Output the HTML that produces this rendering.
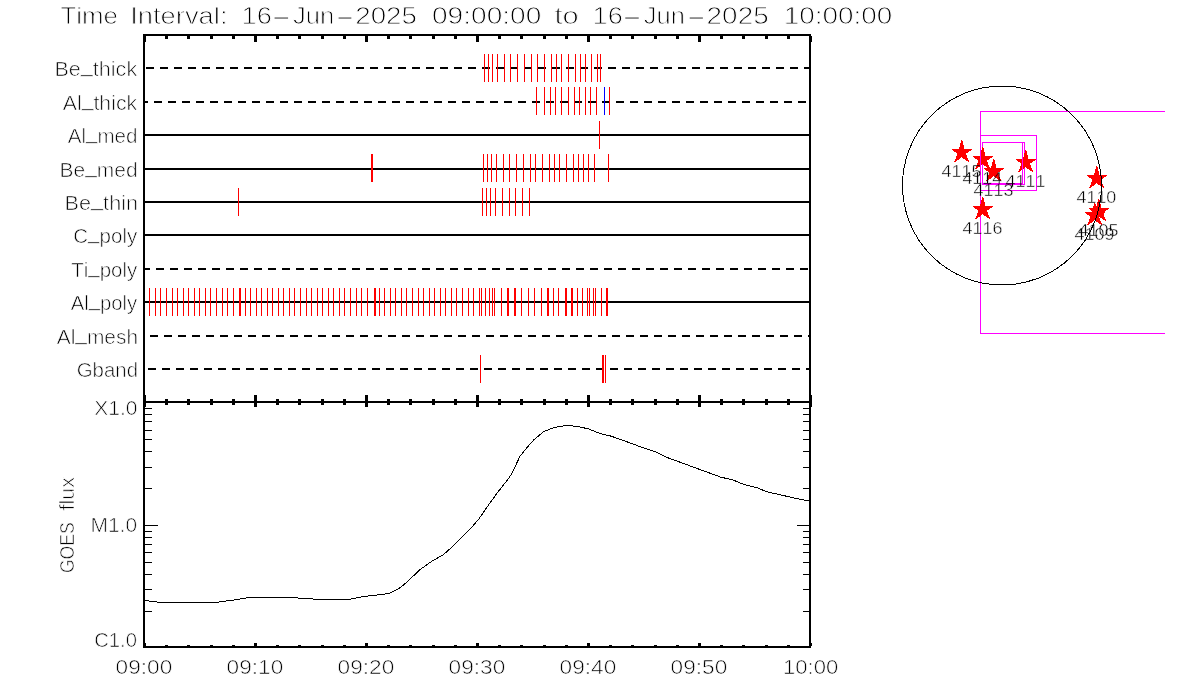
<!DOCTYPE html>
<html><head><meta charset="utf-8"><title>Time Interval</title>
<style>
html,body{margin:0;padding:0;background:#fff;}
svg{display:block;}
text{font-family:"Liberation Sans",sans-serif;fill:#000;font-kerning:none;stroke:#fff;mix-blend-mode:multiply;vector-effect:non-scaling-stroke;}
rect,polygon,polyline,circle{shape-rendering:crispEdges;}
</style></head><body>
<svg width="1200" height="700" viewBox="0 0 1200 700">
<rect x="0" y="0" width="1200" height="700" fill="#fff"/>
<rect x="143" y="34" width="668" height="2" fill="#000"/>
<rect x="143" y="401" width="668" height="2" fill="#000"/>
<rect x="143" y="646" width="668" height="2" fill="#000"/>
<rect x="143" y="34" width="2" height="614" fill="#000"/>
<rect x="809" y="34" width="2" height="614" fill="#000"/>
<rect x="143" y="36" width="3" height="6" fill="#000"/>
<rect x="143" y="395" width="3" height="12" fill="#000"/>
<rect x="143" y="643" width="3" height="3" fill="#000"/>
<rect x="165" y="36" width="3" height="3" fill="#000"/>
<rect x="165" y="399" width="3" height="6" fill="#000"/>
<rect x="165" y="645" width="3" height="1" fill="#000"/>
<rect x="187" y="36" width="3" height="3" fill="#000"/>
<rect x="187" y="399" width="3" height="6" fill="#000"/>
<rect x="187" y="645" width="3" height="1" fill="#000"/>
<rect x="210" y="36" width="3" height="3" fill="#000"/>
<rect x="210" y="399" width="3" height="6" fill="#000"/>
<rect x="210" y="645" width="3" height="1" fill="#000"/>
<rect x="232" y="36" width="3" height="3" fill="#000"/>
<rect x="232" y="399" width="3" height="6" fill="#000"/>
<rect x="232" y="645" width="3" height="1" fill="#000"/>
<rect x="254" y="36" width="3" height="6" fill="#000"/>
<rect x="254" y="395" width="3" height="12" fill="#000"/>
<rect x="254" y="643" width="3" height="3" fill="#000"/>
<rect x="276" y="36" width="3" height="3" fill="#000"/>
<rect x="276" y="399" width="3" height="6" fill="#000"/>
<rect x="276" y="645" width="3" height="1" fill="#000"/>
<rect x="298" y="36" width="3" height="3" fill="#000"/>
<rect x="298" y="399" width="3" height="6" fill="#000"/>
<rect x="298" y="645" width="3" height="1" fill="#000"/>
<rect x="321" y="36" width="3" height="3" fill="#000"/>
<rect x="321" y="399" width="3" height="6" fill="#000"/>
<rect x="321" y="645" width="3" height="1" fill="#000"/>
<rect x="343" y="36" width="3" height="3" fill="#000"/>
<rect x="343" y="399" width="3" height="6" fill="#000"/>
<rect x="343" y="645" width="3" height="1" fill="#000"/>
<rect x="365" y="36" width="3" height="6" fill="#000"/>
<rect x="365" y="395" width="3" height="12" fill="#000"/>
<rect x="365" y="643" width="3" height="3" fill="#000"/>
<rect x="387" y="36" width="3" height="3" fill="#000"/>
<rect x="387" y="399" width="3" height="6" fill="#000"/>
<rect x="387" y="645" width="3" height="1" fill="#000"/>
<rect x="409" y="36" width="3" height="3" fill="#000"/>
<rect x="409" y="399" width="3" height="6" fill="#000"/>
<rect x="409" y="645" width="3" height="1" fill="#000"/>
<rect x="432" y="36" width="3" height="3" fill="#000"/>
<rect x="432" y="399" width="3" height="6" fill="#000"/>
<rect x="432" y="645" width="3" height="1" fill="#000"/>
<rect x="454" y="36" width="3" height="3" fill="#000"/>
<rect x="454" y="399" width="3" height="6" fill="#000"/>
<rect x="454" y="645" width="3" height="1" fill="#000"/>
<rect x="476" y="36" width="3" height="6" fill="#000"/>
<rect x="476" y="395" width="3" height="12" fill="#000"/>
<rect x="476" y="643" width="3" height="3" fill="#000"/>
<rect x="498" y="36" width="3" height="3" fill="#000"/>
<rect x="498" y="399" width="3" height="6" fill="#000"/>
<rect x="498" y="645" width="3" height="1" fill="#000"/>
<rect x="520" y="36" width="3" height="3" fill="#000"/>
<rect x="520" y="399" width="3" height="6" fill="#000"/>
<rect x="520" y="645" width="3" height="1" fill="#000"/>
<rect x="543" y="36" width="3" height="3" fill="#000"/>
<rect x="543" y="399" width="3" height="6" fill="#000"/>
<rect x="543" y="645" width="3" height="1" fill="#000"/>
<rect x="565" y="36" width="3" height="3" fill="#000"/>
<rect x="565" y="399" width="3" height="6" fill="#000"/>
<rect x="565" y="645" width="3" height="1" fill="#000"/>
<rect x="587" y="36" width="3" height="6" fill="#000"/>
<rect x="587" y="395" width="3" height="12" fill="#000"/>
<rect x="587" y="643" width="3" height="3" fill="#000"/>
<rect x="609" y="36" width="3" height="3" fill="#000"/>
<rect x="609" y="399" width="3" height="6" fill="#000"/>
<rect x="609" y="645" width="3" height="1" fill="#000"/>
<rect x="631" y="36" width="3" height="3" fill="#000"/>
<rect x="631" y="399" width="3" height="6" fill="#000"/>
<rect x="631" y="645" width="3" height="1" fill="#000"/>
<rect x="654" y="36" width="3" height="3" fill="#000"/>
<rect x="654" y="399" width="3" height="6" fill="#000"/>
<rect x="654" y="645" width="3" height="1" fill="#000"/>
<rect x="676" y="36" width="3" height="3" fill="#000"/>
<rect x="676" y="399" width="3" height="6" fill="#000"/>
<rect x="676" y="645" width="3" height="1" fill="#000"/>
<rect x="698" y="36" width="3" height="6" fill="#000"/>
<rect x="698" y="395" width="3" height="12" fill="#000"/>
<rect x="698" y="643" width="3" height="3" fill="#000"/>
<rect x="720" y="36" width="3" height="3" fill="#000"/>
<rect x="720" y="399" width="3" height="6" fill="#000"/>
<rect x="720" y="645" width="3" height="1" fill="#000"/>
<rect x="742" y="36" width="3" height="3" fill="#000"/>
<rect x="742" y="399" width="3" height="6" fill="#000"/>
<rect x="742" y="645" width="3" height="1" fill="#000"/>
<rect x="765" y="36" width="3" height="3" fill="#000"/>
<rect x="765" y="399" width="3" height="6" fill="#000"/>
<rect x="765" y="645" width="3" height="1" fill="#000"/>
<rect x="787" y="36" width="3" height="3" fill="#000"/>
<rect x="787" y="399" width="3" height="6" fill="#000"/>
<rect x="787" y="645" width="3" height="1" fill="#000"/>
<rect x="809" y="36" width="3" height="6" fill="#000"/>
<rect x="809" y="395" width="3" height="12" fill="#000"/>
<rect x="809" y="643" width="3" height="3" fill="#000"/>
<rect x="146" y="67" width="8" height="2" fill="#000"/>
<rect x="160" y="67" width="8" height="2" fill="#000"/>
<rect x="174" y="67" width="8" height="2" fill="#000"/>
<rect x="188" y="67" width="8" height="2" fill="#000"/>
<rect x="202" y="67" width="8" height="2" fill="#000"/>
<rect x="216" y="67" width="8" height="2" fill="#000"/>
<rect x="230" y="67" width="8" height="2" fill="#000"/>
<rect x="244" y="67" width="8" height="2" fill="#000"/>
<rect x="258" y="67" width="8" height="2" fill="#000"/>
<rect x="272" y="67" width="8" height="2" fill="#000"/>
<rect x="286" y="67" width="8" height="2" fill="#000"/>
<rect x="300" y="67" width="8" height="2" fill="#000"/>
<rect x="314" y="67" width="8" height="2" fill="#000"/>
<rect x="328" y="67" width="8" height="2" fill="#000"/>
<rect x="342" y="67" width="8" height="2" fill="#000"/>
<rect x="356" y="67" width="8" height="2" fill="#000"/>
<rect x="370" y="67" width="8" height="2" fill="#000"/>
<rect x="384" y="67" width="8" height="2" fill="#000"/>
<rect x="398" y="67" width="8" height="2" fill="#000"/>
<rect x="412" y="67" width="8" height="2" fill="#000"/>
<rect x="426" y="67" width="8" height="2" fill="#000"/>
<rect x="440" y="67" width="8" height="2" fill="#000"/>
<rect x="454" y="67" width="8" height="2" fill="#000"/>
<rect x="468" y="67" width="8" height="2" fill="#000"/>
<rect x="482" y="67" width="8" height="2" fill="#000"/>
<rect x="496" y="67" width="8" height="2" fill="#000"/>
<rect x="510" y="67" width="8" height="2" fill="#000"/>
<rect x="524" y="67" width="8" height="2" fill="#000"/>
<rect x="538" y="67" width="8" height="2" fill="#000"/>
<rect x="552" y="67" width="8" height="2" fill="#000"/>
<rect x="566" y="67" width="8" height="2" fill="#000"/>
<rect x="580" y="67" width="8" height="2" fill="#000"/>
<rect x="594" y="67" width="8" height="2" fill="#000"/>
<rect x="608" y="67" width="8" height="2" fill="#000"/>
<rect x="622" y="67" width="8" height="2" fill="#000"/>
<rect x="636" y="67" width="8" height="2" fill="#000"/>
<rect x="650" y="67" width="8" height="2" fill="#000"/>
<rect x="664" y="67" width="8" height="2" fill="#000"/>
<rect x="678" y="67" width="8" height="2" fill="#000"/>
<rect x="692" y="67" width="8" height="2" fill="#000"/>
<rect x="706" y="67" width="8" height="2" fill="#000"/>
<rect x="720" y="67" width="8" height="2" fill="#000"/>
<rect x="734" y="67" width="8" height="2" fill="#000"/>
<rect x="748" y="67" width="8" height="2" fill="#000"/>
<rect x="762" y="67" width="8" height="2" fill="#000"/>
<rect x="776" y="67" width="8" height="2" fill="#000"/>
<rect x="790" y="67" width="8" height="2" fill="#000"/>
<rect x="804" y="67" width="5" height="2" fill="#000"/>
<text transform="translate(54.50,75.5) scale(1.0781,1)" font-size="20" stroke-width="0.66">Be<tspan dy="-3.5">_</tspan><tspan dy="3.5">thick</tspan></text>
<rect x="145" y="101" width="3" height="2" fill="#000"/>
<rect x="154" y="101" width="8" height="2" fill="#000"/>
<rect x="168" y="101" width="8" height="2" fill="#000"/>
<rect x="182" y="101" width="8" height="2" fill="#000"/>
<rect x="196" y="101" width="8" height="2" fill="#000"/>
<rect x="210" y="101" width="8" height="2" fill="#000"/>
<rect x="224" y="101" width="8" height="2" fill="#000"/>
<rect x="238" y="101" width="8" height="2" fill="#000"/>
<rect x="252" y="101" width="8" height="2" fill="#000"/>
<rect x="266" y="101" width="8" height="2" fill="#000"/>
<rect x="280" y="101" width="8" height="2" fill="#000"/>
<rect x="294" y="101" width="8" height="2" fill="#000"/>
<rect x="308" y="101" width="8" height="2" fill="#000"/>
<rect x="322" y="101" width="8" height="2" fill="#000"/>
<rect x="336" y="101" width="8" height="2" fill="#000"/>
<rect x="350" y="101" width="8" height="2" fill="#000"/>
<rect x="364" y="101" width="8" height="2" fill="#000"/>
<rect x="378" y="101" width="8" height="2" fill="#000"/>
<rect x="392" y="101" width="8" height="2" fill="#000"/>
<rect x="406" y="101" width="8" height="2" fill="#000"/>
<rect x="420" y="101" width="8" height="2" fill="#000"/>
<rect x="434" y="101" width="8" height="2" fill="#000"/>
<rect x="448" y="101" width="8" height="2" fill="#000"/>
<rect x="462" y="101" width="8" height="2" fill="#000"/>
<rect x="476" y="101" width="8" height="2" fill="#000"/>
<rect x="490" y="101" width="8" height="2" fill="#000"/>
<rect x="504" y="101" width="8" height="2" fill="#000"/>
<rect x="518" y="101" width="8" height="2" fill="#000"/>
<rect x="532" y="101" width="8" height="2" fill="#000"/>
<rect x="546" y="101" width="8" height="2" fill="#000"/>
<rect x="560" y="101" width="8" height="2" fill="#000"/>
<rect x="574" y="101" width="8" height="2" fill="#000"/>
<rect x="588" y="101" width="8" height="2" fill="#000"/>
<rect x="602" y="101" width="8" height="2" fill="#000"/>
<rect x="616" y="101" width="8" height="2" fill="#000"/>
<rect x="630" y="101" width="8" height="2" fill="#000"/>
<rect x="644" y="101" width="8" height="2" fill="#000"/>
<rect x="658" y="101" width="8" height="2" fill="#000"/>
<rect x="672" y="101" width="8" height="2" fill="#000"/>
<rect x="686" y="101" width="8" height="2" fill="#000"/>
<rect x="700" y="101" width="8" height="2" fill="#000"/>
<rect x="714" y="101" width="8" height="2" fill="#000"/>
<rect x="728" y="101" width="8" height="2" fill="#000"/>
<rect x="742" y="101" width="8" height="2" fill="#000"/>
<rect x="756" y="101" width="8" height="2" fill="#000"/>
<rect x="770" y="101" width="8" height="2" fill="#000"/>
<rect x="784" y="101" width="8" height="2" fill="#000"/>
<rect x="798" y="101" width="8" height="2" fill="#000"/>
<text transform="translate(62.73,109.5) scale(1.0634,1)" font-size="20" stroke-width="0.66">Al<tspan dy="-3.5">_</tspan><tspan dy="3.5">thick</tspan></text>
<rect x="145" y="134" width="664" height="2" fill="#000"/>
<text transform="translate(67.73,142.5) scale(1.0297,1)" font-size="20" stroke-width="0.66">Al<tspan dy="-3.5">_</tspan><tspan dy="3.5">med</tspan></text>
<rect x="145" y="168" width="664" height="2" fill="#000"/>
<text transform="translate(59.55,176.5) scale(1.0475,1)" font-size="20" stroke-width="0.66">Be<tspan dy="-3.5">_</tspan><tspan dy="3.5">med</tspan></text>
<rect x="145" y="201" width="664" height="2" fill="#000"/>
<text transform="translate(64.49,209.5) scale(1.0858,1)" font-size="20" stroke-width="0.66">Be<tspan dy="-3.5">_</tspan><tspan dy="3.5">thin</tspan></text>
<rect x="145" y="234" width="664" height="2" fill="#000"/>
<text transform="translate(73.22,242.5) scale(1.0288,1)" font-size="20" stroke-width="0.66">C<tspan dy="-3.5">_</tspan><tspan dy="3.5">poly</tspan></text>
<rect x="145" y="268" width="5" height="2" fill="#000"/>
<rect x="156" y="268" width="8" height="2" fill="#000"/>
<rect x="170" y="268" width="8" height="2" fill="#000"/>
<rect x="184" y="268" width="8" height="2" fill="#000"/>
<rect x="198" y="268" width="8" height="2" fill="#000"/>
<rect x="212" y="268" width="8" height="2" fill="#000"/>
<rect x="226" y="268" width="8" height="2" fill="#000"/>
<rect x="240" y="268" width="8" height="2" fill="#000"/>
<rect x="254" y="268" width="8" height="2" fill="#000"/>
<rect x="268" y="268" width="8" height="2" fill="#000"/>
<rect x="282" y="268" width="8" height="2" fill="#000"/>
<rect x="296" y="268" width="8" height="2" fill="#000"/>
<rect x="310" y="268" width="8" height="2" fill="#000"/>
<rect x="324" y="268" width="8" height="2" fill="#000"/>
<rect x="338" y="268" width="8" height="2" fill="#000"/>
<rect x="352" y="268" width="8" height="2" fill="#000"/>
<rect x="366" y="268" width="8" height="2" fill="#000"/>
<rect x="380" y="268" width="8" height="2" fill="#000"/>
<rect x="394" y="268" width="8" height="2" fill="#000"/>
<rect x="408" y="268" width="8" height="2" fill="#000"/>
<rect x="422" y="268" width="8" height="2" fill="#000"/>
<rect x="436" y="268" width="8" height="2" fill="#000"/>
<rect x="450" y="268" width="8" height="2" fill="#000"/>
<rect x="464" y="268" width="8" height="2" fill="#000"/>
<rect x="478" y="268" width="8" height="2" fill="#000"/>
<rect x="492" y="268" width="8" height="2" fill="#000"/>
<rect x="506" y="268" width="8" height="2" fill="#000"/>
<rect x="520" y="268" width="8" height="2" fill="#000"/>
<rect x="534" y="268" width="8" height="2" fill="#000"/>
<rect x="548" y="268" width="8" height="2" fill="#000"/>
<rect x="562" y="268" width="8" height="2" fill="#000"/>
<rect x="576" y="268" width="8" height="2" fill="#000"/>
<rect x="590" y="268" width="8" height="2" fill="#000"/>
<rect x="604" y="268" width="8" height="2" fill="#000"/>
<rect x="618" y="268" width="8" height="2" fill="#000"/>
<rect x="632" y="268" width="8" height="2" fill="#000"/>
<rect x="646" y="268" width="8" height="2" fill="#000"/>
<rect x="660" y="268" width="8" height="2" fill="#000"/>
<rect x="674" y="268" width="8" height="2" fill="#000"/>
<rect x="688" y="268" width="8" height="2" fill="#000"/>
<rect x="702" y="268" width="8" height="2" fill="#000"/>
<rect x="716" y="268" width="8" height="2" fill="#000"/>
<rect x="730" y="268" width="8" height="2" fill="#000"/>
<rect x="744" y="268" width="8" height="2" fill="#000"/>
<rect x="758" y="268" width="8" height="2" fill="#000"/>
<rect x="772" y="268" width="8" height="2" fill="#000"/>
<rect x="786" y="268" width="8" height="2" fill="#000"/>
<rect x="800" y="268" width="8" height="2" fill="#000"/>
<text transform="translate(71.31,276.5) scale(1.0231,1)" font-size="20" stroke-width="0.66">Ti<tspan dy="-3.5">_</tspan><tspan dy="3.5">poly</tspan></text>
<rect x="145" y="301" width="664" height="2" fill="#000"/>
<text transform="translate(70.73,309.5) scale(1.0144,1)" font-size="20" stroke-width="0.66">Al<tspan dy="-3.5">_</tspan><tspan dy="3.5">poly</tspan></text>
<rect x="150" y="335" width="8" height="2" fill="#000"/>
<rect x="164" y="335" width="8" height="2" fill="#000"/>
<rect x="178" y="335" width="8" height="2" fill="#000"/>
<rect x="192" y="335" width="8" height="2" fill="#000"/>
<rect x="206" y="335" width="8" height="2" fill="#000"/>
<rect x="220" y="335" width="8" height="2" fill="#000"/>
<rect x="234" y="335" width="8" height="2" fill="#000"/>
<rect x="248" y="335" width="8" height="2" fill="#000"/>
<rect x="262" y="335" width="8" height="2" fill="#000"/>
<rect x="276" y="335" width="8" height="2" fill="#000"/>
<rect x="290" y="335" width="8" height="2" fill="#000"/>
<rect x="304" y="335" width="8" height="2" fill="#000"/>
<rect x="318" y="335" width="8" height="2" fill="#000"/>
<rect x="332" y="335" width="8" height="2" fill="#000"/>
<rect x="346" y="335" width="8" height="2" fill="#000"/>
<rect x="360" y="335" width="8" height="2" fill="#000"/>
<rect x="374" y="335" width="8" height="2" fill="#000"/>
<rect x="388" y="335" width="8" height="2" fill="#000"/>
<rect x="402" y="335" width="8" height="2" fill="#000"/>
<rect x="416" y="335" width="8" height="2" fill="#000"/>
<rect x="430" y="335" width="8" height="2" fill="#000"/>
<rect x="444" y="335" width="8" height="2" fill="#000"/>
<rect x="458" y="335" width="8" height="2" fill="#000"/>
<rect x="472" y="335" width="8" height="2" fill="#000"/>
<rect x="486" y="335" width="8" height="2" fill="#000"/>
<rect x="500" y="335" width="8" height="2" fill="#000"/>
<rect x="514" y="335" width="8" height="2" fill="#000"/>
<rect x="528" y="335" width="8" height="2" fill="#000"/>
<rect x="542" y="335" width="8" height="2" fill="#000"/>
<rect x="556" y="335" width="8" height="2" fill="#000"/>
<rect x="570" y="335" width="8" height="2" fill="#000"/>
<rect x="584" y="335" width="8" height="2" fill="#000"/>
<rect x="598" y="335" width="8" height="2" fill="#000"/>
<rect x="612" y="335" width="8" height="2" fill="#000"/>
<rect x="626" y="335" width="8" height="2" fill="#000"/>
<rect x="640" y="335" width="8" height="2" fill="#000"/>
<rect x="654" y="335" width="8" height="2" fill="#000"/>
<rect x="668" y="335" width="8" height="2" fill="#000"/>
<rect x="682" y="335" width="8" height="2" fill="#000"/>
<rect x="696" y="335" width="8" height="2" fill="#000"/>
<rect x="710" y="335" width="8" height="2" fill="#000"/>
<rect x="724" y="335" width="8" height="2" fill="#000"/>
<rect x="738" y="335" width="8" height="2" fill="#000"/>
<rect x="752" y="335" width="8" height="2" fill="#000"/>
<rect x="766" y="335" width="8" height="2" fill="#000"/>
<rect x="780" y="335" width="8" height="2" fill="#000"/>
<rect x="794" y="335" width="8" height="2" fill="#000"/>
<rect x="808" y="335" width="1" height="2" fill="#000"/>
<text transform="translate(56.73,343.5) scale(1.0456,1)" font-size="20" stroke-width="0.66">Al<tspan dy="-3.5">_</tspan><tspan dy="3.5">mesh</tspan></text>
<rect x="148" y="368" width="8" height="2" fill="#000"/>
<rect x="162" y="368" width="8" height="2" fill="#000"/>
<rect x="176" y="368" width="8" height="2" fill="#000"/>
<rect x="190" y="368" width="8" height="2" fill="#000"/>
<rect x="204" y="368" width="8" height="2" fill="#000"/>
<rect x="218" y="368" width="8" height="2" fill="#000"/>
<rect x="232" y="368" width="8" height="2" fill="#000"/>
<rect x="246" y="368" width="8" height="2" fill="#000"/>
<rect x="260" y="368" width="8" height="2" fill="#000"/>
<rect x="274" y="368" width="8" height="2" fill="#000"/>
<rect x="288" y="368" width="8" height="2" fill="#000"/>
<rect x="302" y="368" width="8" height="2" fill="#000"/>
<rect x="316" y="368" width="8" height="2" fill="#000"/>
<rect x="330" y="368" width="8" height="2" fill="#000"/>
<rect x="344" y="368" width="8" height="2" fill="#000"/>
<rect x="358" y="368" width="8" height="2" fill="#000"/>
<rect x="372" y="368" width="8" height="2" fill="#000"/>
<rect x="386" y="368" width="8" height="2" fill="#000"/>
<rect x="400" y="368" width="8" height="2" fill="#000"/>
<rect x="414" y="368" width="8" height="2" fill="#000"/>
<rect x="428" y="368" width="8" height="2" fill="#000"/>
<rect x="442" y="368" width="8" height="2" fill="#000"/>
<rect x="456" y="368" width="8" height="2" fill="#000"/>
<rect x="470" y="368" width="8" height="2" fill="#000"/>
<rect x="484" y="368" width="8" height="2" fill="#000"/>
<rect x="498" y="368" width="8" height="2" fill="#000"/>
<rect x="512" y="368" width="8" height="2" fill="#000"/>
<rect x="526" y="368" width="8" height="2" fill="#000"/>
<rect x="540" y="368" width="8" height="2" fill="#000"/>
<rect x="554" y="368" width="8" height="2" fill="#000"/>
<rect x="568" y="368" width="8" height="2" fill="#000"/>
<rect x="582" y="368" width="8" height="2" fill="#000"/>
<rect x="596" y="368" width="8" height="2" fill="#000"/>
<rect x="610" y="368" width="8" height="2" fill="#000"/>
<rect x="624" y="368" width="8" height="2" fill="#000"/>
<rect x="638" y="368" width="8" height="2" fill="#000"/>
<rect x="652" y="368" width="8" height="2" fill="#000"/>
<rect x="666" y="368" width="8" height="2" fill="#000"/>
<rect x="680" y="368" width="8" height="2" fill="#000"/>
<rect x="694" y="368" width="8" height="2" fill="#000"/>
<rect x="708" y="368" width="8" height="2" fill="#000"/>
<rect x="722" y="368" width="8" height="2" fill="#000"/>
<rect x="736" y="368" width="8" height="2" fill="#000"/>
<rect x="750" y="368" width="8" height="2" fill="#000"/>
<rect x="764" y="368" width="8" height="2" fill="#000"/>
<rect x="778" y="368" width="8" height="2" fill="#000"/>
<rect x="792" y="368" width="8" height="2" fill="#000"/>
<rect x="806" y="368" width="3" height="2" fill="#000"/>
<text transform="translate(76.74,376.5) scale(1.0209,1)" font-size="20" stroke-width="0.66">Gband</text>
<rect x="484" y="54" width="1" height="28" fill="#f00"/>
<rect x="488" y="54" width="1" height="28" fill="#f00"/>
<rect x="492" y="54" width="1" height="28" fill="#f00"/>
<rect x="497" y="54" width="1" height="28" fill="#f00"/>
<rect x="504" y="54" width="1" height="28" fill="#f00"/>
<rect x="510" y="54" width="1" height="28" fill="#f00"/>
<rect x="517" y="54" width="1" height="28" fill="#f00"/>
<rect x="524" y="54" width="1" height="28" fill="#f00"/>
<rect x="531" y="54" width="1" height="28" fill="#f00"/>
<rect x="537" y="54" width="1" height="28" fill="#f00"/>
<rect x="544" y="54" width="1" height="28" fill="#f00"/>
<rect x="551" y="54" width="1" height="28" fill="#f00"/>
<rect x="556" y="54" width="1" height="28" fill="#f00"/>
<rect x="561" y="54" width="1" height="28" fill="#f00"/>
<rect x="568" y="54" width="1" height="28" fill="#f00"/>
<rect x="575" y="54" width="1" height="28" fill="#f00"/>
<rect x="580" y="54" width="1" height="28" fill="#f00"/>
<rect x="585" y="54" width="1" height="28" fill="#f00"/>
<rect x="591" y="54" width="1" height="28" fill="#f00"/>
<rect x="597" y="54" width="1" height="28" fill="#f00"/>
<rect x="600" y="54" width="1" height="28" fill="#f00"/>
<rect x="536" y="87" width="1" height="28" fill="#f00"/>
<rect x="544" y="87" width="1" height="28" fill="#f00"/>
<rect x="550" y="87" width="1" height="28" fill="#f00"/>
<rect x="555" y="87" width="1" height="28" fill="#f00"/>
<rect x="561" y="87" width="1" height="28" fill="#f00"/>
<rect x="568" y="87" width="1" height="28" fill="#f00"/>
<rect x="574" y="87" width="1" height="28" fill="#f00"/>
<rect x="579" y="87" width="1" height="28" fill="#f00"/>
<rect x="585" y="87" width="1" height="28" fill="#f00"/>
<rect x="590" y="87" width="1" height="28" fill="#f00"/>
<rect x="596" y="87" width="1" height="28" fill="#f00"/>
<rect x="604" y="87" width="1" height="28" fill="#00f"/>
<rect x="609" y="87" width="1" height="28" fill="#f00"/>
<rect x="599" y="121" width="1" height="28" fill="#f00"/>
<rect x="371" y="154" width="2" height="28" fill="#f00"/>
<rect x="483" y="154" width="1" height="28" fill="#f00"/>
<rect x="487" y="154" width="1" height="28" fill="#f00"/>
<rect x="491" y="154" width="1" height="28" fill="#f00"/>
<rect x="496" y="154" width="1" height="28" fill="#f00"/>
<rect x="503" y="154" width="1" height="28" fill="#f00"/>
<rect x="509" y="154" width="1" height="28" fill="#f00"/>
<rect x="516" y="154" width="1" height="28" fill="#f00"/>
<rect x="523" y="154" width="1" height="28" fill="#f00"/>
<rect x="530" y="154" width="1" height="28" fill="#f00"/>
<rect x="535" y="154" width="1" height="28" fill="#f00"/>
<rect x="542" y="154" width="1" height="28" fill="#f00"/>
<rect x="549" y="154" width="1" height="28" fill="#f00"/>
<rect x="554" y="154" width="1" height="28" fill="#f00"/>
<rect x="559" y="154" width="1" height="28" fill="#f00"/>
<rect x="566" y="154" width="1" height="28" fill="#f00"/>
<rect x="573" y="154" width="1" height="28" fill="#f00"/>
<rect x="578" y="154" width="1" height="28" fill="#f00"/>
<rect x="583" y="154" width="1" height="28" fill="#f00"/>
<rect x="588" y="154" width="1" height="28" fill="#f00"/>
<rect x="594" y="154" width="1" height="28" fill="#f00"/>
<rect x="608" y="154" width="1" height="28" fill="#f00"/>
<rect x="238" y="188" width="1" height="28" fill="#f00"/>
<rect x="482" y="188" width="1" height="28" fill="#f00"/>
<rect x="486" y="188" width="1" height="28" fill="#f00"/>
<rect x="490" y="188" width="1" height="28" fill="#f00"/>
<rect x="495" y="188" width="1" height="28" fill="#f00"/>
<rect x="502" y="188" width="1" height="28" fill="#f00"/>
<rect x="509" y="188" width="1" height="28" fill="#f00"/>
<rect x="515" y="188" width="1" height="28" fill="#f00"/>
<rect x="522" y="188" width="1" height="28" fill="#f00"/>
<rect x="529" y="188" width="1" height="28" fill="#f00"/>
<rect x="149" y="288" width="1" height="28" fill="#f00"/>
<rect x="155" y="288" width="1" height="28" fill="#f00"/>
<rect x="160" y="288" width="1" height="28" fill="#f00"/>
<rect x="166" y="288" width="1" height="28" fill="#f00"/>
<rect x="172" y="288" width="1" height="28" fill="#f00"/>
<rect x="177" y="288" width="1" height="28" fill="#f00"/>
<rect x="183" y="288" width="1" height="28" fill="#f00"/>
<rect x="188" y="288" width="1" height="28" fill="#f00"/>
<rect x="194" y="288" width="1" height="28" fill="#f00"/>
<rect x="199" y="288" width="1" height="28" fill="#f00"/>
<rect x="205" y="288" width="1" height="28" fill="#f00"/>
<rect x="210" y="288" width="1" height="28" fill="#f00"/>
<rect x="216" y="288" width="1" height="28" fill="#f00"/>
<rect x="222" y="288" width="1" height="28" fill="#f00"/>
<rect x="227" y="288" width="1" height="28" fill="#f00"/>
<rect x="233" y="288" width="1" height="28" fill="#f00"/>
<rect x="239" y="288" width="2" height="28" fill="#f00"/>
<rect x="245" y="288" width="1" height="28" fill="#f00"/>
<rect x="250" y="288" width="1" height="28" fill="#f00"/>
<rect x="256" y="288" width="1" height="28" fill="#f00"/>
<rect x="261" y="288" width="1" height="28" fill="#f00"/>
<rect x="267" y="288" width="1" height="28" fill="#f00"/>
<rect x="272" y="288" width="1" height="28" fill="#f00"/>
<rect x="278" y="288" width="1" height="28" fill="#f00"/>
<rect x="283" y="288" width="1" height="28" fill="#f00"/>
<rect x="289" y="288" width="1" height="28" fill="#f00"/>
<rect x="294" y="288" width="1" height="28" fill="#f00"/>
<rect x="300" y="288" width="1" height="28" fill="#f00"/>
<rect x="306" y="288" width="1" height="28" fill="#f00"/>
<rect x="311" y="288" width="1" height="28" fill="#f00"/>
<rect x="317" y="288" width="1" height="28" fill="#f00"/>
<rect x="322" y="288" width="1" height="28" fill="#f00"/>
<rect x="328" y="288" width="1" height="28" fill="#f00"/>
<rect x="333" y="288" width="1" height="28" fill="#f00"/>
<rect x="339" y="288" width="1" height="28" fill="#f00"/>
<rect x="344" y="288" width="1" height="28" fill="#f00"/>
<rect x="350" y="288" width="1" height="28" fill="#f00"/>
<rect x="356" y="288" width="1" height="28" fill="#f00"/>
<rect x="361" y="288" width="1" height="28" fill="#f00"/>
<rect x="367" y="288" width="1" height="28" fill="#f00"/>
<rect x="374" y="288" width="2" height="28" fill="#f00"/>
<rect x="379" y="288" width="1" height="28" fill="#f00"/>
<rect x="384" y="288" width="1" height="28" fill="#f00"/>
<rect x="390" y="288" width="1" height="28" fill="#f00"/>
<rect x="395" y="288" width="1" height="28" fill="#f00"/>
<rect x="401" y="288" width="1" height="28" fill="#f00"/>
<rect x="406" y="288" width="1" height="28" fill="#f00"/>
<rect x="412" y="288" width="1" height="28" fill="#f00"/>
<rect x="418" y="288" width="1" height="28" fill="#f00"/>
<rect x="423" y="288" width="1" height="28" fill="#f00"/>
<rect x="429" y="288" width="1" height="28" fill="#f00"/>
<rect x="434" y="288" width="1" height="28" fill="#f00"/>
<rect x="440" y="288" width="1" height="28" fill="#f00"/>
<rect x="445" y="288" width="1" height="28" fill="#f00"/>
<rect x="451" y="288" width="1" height="28" fill="#f00"/>
<rect x="456" y="288" width="1" height="28" fill="#f00"/>
<rect x="462" y="288" width="1" height="28" fill="#f00"/>
<rect x="468" y="288" width="1" height="28" fill="#f00"/>
<rect x="473" y="288" width="1" height="28" fill="#f00"/>
<rect x="479" y="288" width="1" height="28" fill="#f00"/>
<rect x="481" y="288" width="1" height="28" fill="#f00"/>
<rect x="485" y="288" width="1" height="28" fill="#f00"/>
<rect x="489" y="288" width="1" height="28" fill="#f00"/>
<rect x="492" y="288" width="1" height="28" fill="#f00"/>
<rect x="494" y="288" width="1" height="28" fill="#f00"/>
<rect x="501" y="288" width="1" height="28" fill="#f00"/>
<rect x="507" y="288" width="2" height="28" fill="#f00"/>
<rect x="514" y="288" width="2" height="28" fill="#f00"/>
<rect x="521" y="288" width="1" height="28" fill="#f00"/>
<rect x="528" y="288" width="1" height="28" fill="#f00"/>
<rect x="534" y="288" width="1" height="28" fill="#f00"/>
<rect x="541" y="288" width="1" height="28" fill="#f00"/>
<rect x="547" y="288" width="2" height="28" fill="#f00"/>
<rect x="553" y="288" width="1" height="28" fill="#f00"/>
<rect x="558" y="288" width="1" height="28" fill="#f00"/>
<rect x="565" y="288" width="2" height="28" fill="#f00"/>
<rect x="571" y="288" width="2" height="28" fill="#f00"/>
<rect x="577" y="288" width="1" height="28" fill="#f00"/>
<rect x="582" y="288" width="1" height="28" fill="#f00"/>
<rect x="587" y="288" width="1" height="28" fill="#f00"/>
<rect x="589" y="288" width="1" height="28" fill="#f00"/>
<rect x="593" y="288" width="1" height="28" fill="#f00"/>
<rect x="595" y="288" width="1" height="28" fill="#f00"/>
<rect x="601" y="288" width="1" height="28" fill="#f00"/>
<rect x="606" y="288" width="2" height="28" fill="#f00"/>
<rect x="480" y="355" width="1" height="28" fill="#f00"/>
<rect x="602" y="355" width="2" height="28" fill="#f00"/>
<rect x="605" y="355" width="1" height="28" fill="#f00"/>
<rect x="145" y="611" width="7" height="1" fill="#000"/>
<rect x="803" y="611" width="6" height="1" fill="#000"/>
<rect x="145" y="589" width="7" height="1" fill="#000"/>
<rect x="803" y="589" width="6" height="1" fill="#000"/>
<rect x="145" y="574" width="7" height="1" fill="#000"/>
<rect x="803" y="574" width="6" height="1" fill="#000"/>
<rect x="145" y="562" width="7" height="1" fill="#000"/>
<rect x="803" y="562" width="6" height="1" fill="#000"/>
<rect x="145" y="552" width="7" height="1" fill="#000"/>
<rect x="803" y="552" width="6" height="1" fill="#000"/>
<rect x="145" y="544" width="7" height="1" fill="#000"/>
<rect x="803" y="544" width="6" height="1" fill="#000"/>
<rect x="145" y="537" width="7" height="1" fill="#000"/>
<rect x="803" y="537" width="6" height="1" fill="#000"/>
<rect x="145" y="531" width="7" height="1" fill="#000"/>
<rect x="803" y="531" width="6" height="1" fill="#000"/>
<rect x="145" y="488" width="7" height="1" fill="#000"/>
<rect x="803" y="488" width="6" height="1" fill="#000"/>
<rect x="145" y="467" width="7" height="1" fill="#000"/>
<rect x="803" y="467" width="6" height="1" fill="#000"/>
<rect x="145" y="451" width="7" height="1" fill="#000"/>
<rect x="803" y="451" width="6" height="1" fill="#000"/>
<rect x="145" y="439" width="7" height="1" fill="#000"/>
<rect x="803" y="439" width="6" height="1" fill="#000"/>
<rect x="145" y="430" width="7" height="1" fill="#000"/>
<rect x="803" y="430" width="6" height="1" fill="#000"/>
<rect x="145" y="421" width="7" height="1" fill="#000"/>
<rect x="803" y="421" width="6" height="1" fill="#000"/>
<rect x="145" y="414" width="7" height="1" fill="#000"/>
<rect x="803" y="414" width="6" height="1" fill="#000"/>
<rect x="145" y="408" width="7" height="1" fill="#000"/>
<rect x="803" y="408" width="6" height="1" fill="#000"/>
<rect x="145" y="525" width="13" height="1" fill="#000"/>
<rect x="797" y="525" width="12" height="1" fill="#000"/>
<text transform="translate(94.30,415) scale(1.0489,1)" font-size="20" stroke-width="0.66">X1.0</text>
<text transform="translate(90.55,532) scale(1.0457,1)" font-size="20" stroke-width="0.66">M1.0</text>
<text transform="translate(94.24,647) scale(1.0127,1)" font-size="20" stroke-width="0.66">C1.0</text>
<text transform="translate(115.58,674) scale(1.1336,1)" font-size="20" stroke-width="0.66">09:00</text>
<text transform="translate(226.58,674) scale(1.1336,1)" font-size="20" stroke-width="0.66">09:10</text>
<text transform="translate(337.58,674) scale(1.1336,1)" font-size="20" stroke-width="0.66">09:20</text>
<text transform="translate(448.58,674) scale(1.1336,1)" font-size="20" stroke-width="0.66">09:30</text>
<text transform="translate(559.58,674) scale(1.1336,1)" font-size="20" stroke-width="0.66">09:40</text>
<text transform="translate(670.58,674) scale(1.1336,1)" font-size="20" stroke-width="0.66">09:50</text>
<text transform="translate(783.09,674) scale(1.1030,1)" font-size="20" stroke-width="0.66">10:00</text>
<text y="23.5" font-size="24" stroke-width="0.87"><tspan x="60.42" textLength="57.43" lengthAdjust="spacingAndGlyphs">Time</tspan> <tspan x="130.18" textLength="97.32" lengthAdjust="spacingAndGlyphs">Interval:</tspan> <tspan x="241.62" textLength="30.38" lengthAdjust="spacingAndGlyphs">16</tspan><tspan x="270.41" textLength="21.69" lengthAdjust="spacingAndGlyphs">-</tspan><tspan x="292.90" textLength="41.26" lengthAdjust="spacingAndGlyphs">Jun</tspan><tspan x="334.77" textLength="20.46" lengthAdjust="spacingAndGlyphs">-</tspan><tspan x="355.31" textLength="61.66" lengthAdjust="spacingAndGlyphs">2025</tspan> <tspan x="431.90" textLength="109.50" lengthAdjust="spacingAndGlyphs">09:00:00</tspan> <tspan x="554.56" textLength="24.15" lengthAdjust="spacingAndGlyphs">to</tspan> <tspan x="592.63" textLength="30.27" lengthAdjust="spacingAndGlyphs">16</tspan><tspan x="621.32" textLength="21.55" lengthAdjust="spacingAndGlyphs">-</tspan><tspan x="643.80" textLength="41.16" lengthAdjust="spacingAndGlyphs">Jun</tspan><tspan x="685.88" textLength="21.14" lengthAdjust="spacingAndGlyphs">-</tspan><tspan x="706.60" textLength="62.08" lengthAdjust="spacingAndGlyphs">2025</tspan> <tspan x="783.67" textLength="108.72" lengthAdjust="spacingAndGlyphs">10:00:00</tspan></text>
<text transform="translate(73.6,0) rotate(-90)" y="0" font-size="20" stroke-width="0.66"><tspan x="-573.09" textLength="50.89" lengthAdjust="spacingAndGlyphs">GOES</tspan> <tspan x="-510.50" textLength="33.44" lengthAdjust="spacingAndGlyphs">flux</tspan></text>
<polyline fill="none" stroke="#000" stroke-width="1" points="144.0,600.2 150.0,601.2 161.0,602.4 216.5,602.4 228.0,600.8 236.0,599.7 242.0,598.7 250.0,597.2 293.7,597.2 300.0,598.3 316.3,599.2 349.7,599.2 365.1,596.3 380.6,594.6 389.1,593.4 399.4,588.2 406.3,582.6 420.0,569.7 432.0,561.1 443.2,554.8 450.3,548.6 462.9,536.0 472.0,526.9 478.9,518.9 488.0,505.7 497.1,493.1 507.4,480.0 511.4,474.3 520.0,456.3 526.9,447.7 533.7,440.0 544.0,431.4 554.3,427.5 566.3,425.4 576.6,426.3 588.6,428.9 600.6,433.7 610.9,436.1 624.6,440.9 639.1,446.3 655.7,452.0 666.0,457.1 684.9,464.0 703.7,470.9 720.9,477.2 732.9,479.9 743.1,484.2 756.9,487.7 767.1,491.9 780.9,494.9 792.9,497.8 809.0,500.9"/>
<rect x="980" y="111" width="185" height="1" fill="#f0f"/>
<rect x="980" y="333" width="185" height="1" fill="#f0f"/>
<rect x="980" y="111" width="1" height="223" fill="#f0f"/>
<rect x="982" y="142" width="43" height="1" fill="#f0f"/>
<rect x="982" y="142" width="1" height="43" fill="#f0f"/>
<rect x="1024" y="142" width="1" height="43" fill="#f0f"/>
<rect x="982" y="184" width="43" height="1" fill="#f0f"/>
<polygon fill="#f00" points="961.2,140.0 962.2,140.0 964.4,148.5 972.0,148.8 972.0,149.8 966.0,153.6 969.0,161.5 968.2,162.0 961.7,157.2 955.1,162.0 954.3,161.5 957.5,153.6 952.0,149.8 952.0,148.8 959.1,148.5"/>
<polygon fill="#f00" points="982.2,147.0 983.2,147.0 985.4,155.5 993.0,155.8 993.0,156.8 987.0,160.6 990.0,168.5 989.2,169.0 982.7,164.2 976.1,169.0 975.3,168.5 978.5,160.6 973.0,156.8 973.0,155.8 980.1,155.5"/>
<polygon fill="#f00" points="993.2,159.0 994.2,159.0 996.4,167.5 1004.0,167.8 1004.0,168.8 998.0,172.6 1001.0,180.5 1000.2,181.0 993.7,176.2 987.1,181.0 986.3,180.5 989.5,172.6 984.0,168.8 984.0,167.8 991.1,167.5"/>
<polygon fill="#f00" points="1025.2,150.0 1026.2,150.0 1028.4,158.5 1036.0,158.8 1036.0,159.8 1030.0,163.6 1033.0,171.5 1032.2,172.0 1025.7,167.2 1019.1,172.0 1018.3,171.5 1021.5,163.6 1016.0,159.8 1016.0,158.8 1023.1,158.5"/>
<polygon fill="#f00" points="982.2,197.0 983.2,197.0 985.4,205.5 993.0,205.8 993.0,206.8 987.0,210.6 990.0,218.5 989.2,219.0 982.7,214.2 976.1,219.0 975.3,218.5 978.5,210.6 973.0,206.8 973.0,205.8 980.1,205.5"/>
<polygon fill="#f00" points="1096.2,166.0 1097.2,166.0 1099.4,174.5 1107.0,174.8 1107.0,175.8 1101.0,179.6 1104.0,187.5 1103.2,188.0 1096.7,183.2 1090.1,188.0 1089.3,187.5 1092.5,179.6 1087.0,175.8 1087.0,174.8 1094.1,174.5"/>
<polygon fill="#f00" points="1098.2,199.0 1099.2,199.0 1101.4,207.5 1109.0,207.8 1109.0,208.8 1103.0,212.6 1106.0,220.5 1105.2,221.0 1098.7,216.2 1092.1,221.0 1091.3,220.5 1094.5,212.6 1089.0,208.8 1089.0,207.8 1096.1,207.5"/>
<polygon fill="#f00" points="1094.2,203.0 1095.2,203.0 1097.4,211.5 1105.0,211.8 1105.0,212.8 1099.0,216.6 1102.0,224.5 1101.2,225.0 1094.7,220.2 1088.1,225.0 1087.3,224.5 1090.5,216.6 1085.0,212.8 1085.0,211.8 1092.1,211.5"/>
<circle cx="1002" cy="185.5" r="99.5" fill="none" stroke="#000" stroke-width="1"/>
<rect x="980" y="135" width="57" height="1" fill="#f0f"/>
<rect x="980" y="190" width="57" height="1" fill="#f0f"/>
<rect x="1036" y="135" width="1" height="56" fill="#f0f"/>
<rect x="980" y="135" width="1" height="56" fill="#f0f"/>
<rect x="982" y="142" width="41" height="1" fill="#f0f"/>
<rect x="1022" y="142" width="1" height="42" fill="#f0f"/>
<rect x="982" y="183" width="41" height="1" fill="#f0f"/>
<text transform="translate(941.43,176.5) scale(1.1233,1)" font-size="16" stroke-width="0.45">4115</text>
<text transform="translate(962.43,183.5) scale(1.1167,1)" font-size="16" stroke-width="0.45">4114</text>
<text transform="translate(973.43,195.5) scale(1.1243,1)" font-size="16" stroke-width="0.45">4113</text>
<text transform="translate(1005.43,186.5) scale(1.1269,1)" font-size="16" stroke-width="0.45">4111</text>
<text transform="translate(962.43,233.5) scale(1.1243,1)" font-size="16" stroke-width="0.45">4116</text>
<text transform="translate(1076.43,202.5) scale(1.1218,1)" font-size="16" stroke-width="0.45">4110</text>
<text transform="translate(1078.43,235.5) scale(1.1233,1)" font-size="16" stroke-width="0.45">4105</text>
<text transform="translate(1074.43,239.5) scale(1.1261,1)" font-size="16" stroke-width="0.45">4109</text>
</svg>
</body></html>
